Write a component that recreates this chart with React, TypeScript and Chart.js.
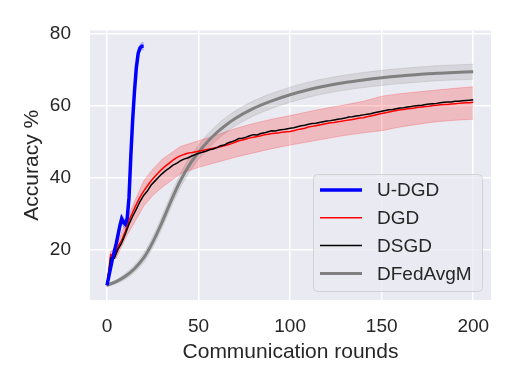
import React, { useEffect, useRef } from "react";
import Chart from "chart.js/auto";

const xTicks = [0, 50, 100, 150, 200];
const yTicks = [20, 40, 60, 80];

const udgdRounds = [0, 1, 2, 3, 4, 5, 6, 7, 8, 9, 10, 11, 12, 13, 14, 15, 16, 17, 18, 19, 20];
const udgdAcc = [10, 12.5, 15, 17.5, 19.5, 21.5, 24, 26.5, 28.5, 27.5, 27, 28.5, 34.3, 46, 56, 64, 70.5, 74.5, 76, 76.5, 76.5];
const udgdUpper = [10.5, 13.2, 15.8, 18.3, 20.4, 22.5, 25.1, 27.7, 29.7, 28.7, 28.2, 29.7, 35.5, 47.3, 57.3, 65.2, 71.7, 75.5, 77, 77.5, 77.5];
const udgdLower = [9.5, 11.8, 14.2, 16.7, 18.6, 20.5, 22.9, 25.3, 27.3, 26.3, 25.8, 27.3, 33.1, 44.7, 54.7, 62.8, 69.3, 73.5, 75, 75.5, 75.5];

const denseRounds = [
  0, 2, 4, 6, 8, 10, 12, 14, 16, 18, 20, 22, 24, 26, 28, 30, 32, 34, 36, 38, 40, 42, 44, 46, 48, 50,
  52, 54, 56, 58, 60, 62, 64, 66, 68, 70, 72, 74, 76, 78, 80, 82, 84, 86, 88, 90, 92, 94, 96, 98, 100,
  102, 104, 106, 108, 110, 112, 114, 116, 118, 120, 122, 124, 126, 128, 130, 132, 134, 136, 138, 140,
  142, 144, 146, 148, 150, 152, 154, 156, 158, 160, 162, 164, 166, 168, 170, 172, 174, 176, 178, 180,
  182, 184, 186, 188, 190, 192, 194, 196, 198, 200,
];

const dsgdAcc = [
  10.0, 17.6, 17.5, 20.0, 21.8, 24.3, 27.0, 29.2, 31.2, 33.3, 35.0, 36.2, 37.8, 38.9, 40.0, 41.0, 41.9,
  42.6, 43.4, 43.9, 44.6, 45.1, 45.4, 45.9, 46.3, 46.7, 47.0, 47.3, 47.7, 47.9, 48.3, 48.8, 49.0, 49.6,
  49.9, 50.3, 50.8, 50.9, 51.2, 51.6, 51.9, 51.8, 52.2, 52.4, 52.7, 53.0, 52.9, 53.2, 53.3, 53.5, 53.7,
  53.8, 54.1, 54.4, 54.5, 54.8, 55.0, 55.1, 55.3, 55.5, 55.7, 55.8, 56.0, 56.2, 56.3, 56.5, 56.8, 56.9,
  57.1, 57.2, 57.4, 57.6, 57.7, 58.0, 58.2, 58.4, 58.6, 58.8, 58.9, 59.1, 59.3, 59.4, 59.6, 59.7, 59.9,
  60.0, 60.1, 60.3, 60.4, 60.5, 60.6, 60.8, 60.9, 61.0, 61.0, 61.2, 61.2, 61.3, 61.4, 61.5, 61.6,
];

const dgdAcc = [
  10.0, 18.5, 18.0, 20.8, 22.5, 25.0, 28.0, 30.3, 32.5, 34.5, 36.2, 37.6, 39.0, 40.2, 41.3, 42.3, 43.2,
  44.0, 44.8, 45.5, 46.0, 46.4, 46.7, 46.9, 47.1, 47.3, 47.5, 47.7, 47.9, 48.1, 48.3, 48.5, 48.8, 49.1,
  49.4, 49.8, 50.2, 50.4, 50.7, 51.0, 51.2, 51.4, 51.6, 51.9, 52.0, 52.2, 52.3, 52.4, 52.6, 52.7, 52.8,
  53.0, 53.3, 53.5, 53.7, 54.0, 54.2, 54.4, 54.6, 54.8, 55.0, 55.2, 55.3, 55.5, 55.6, 55.8, 56.0, 56.1,
  56.3, 56.5, 56.6, 56.9, 57.1, 57.3, 57.6, 57.8, 58.0, 58.2, 58.4, 58.6, 58.8, 58.9, 59.1, 59.2, 59.3,
  59.5, 59.6, 59.7, 59.8, 60.0, 60.1, 60.2, 60.3, 60.3, 60.4, 60.5, 60.6, 60.7, 60.8, 60.8, 60.9,
];

const dgdBandRounds = [0, 2, 5, 10, 20, 25, 30, 40, 50, 60, 70, 80, 90, 100, 110, 120, 130, 140, 150, 160, 170, 180, 190, 200];
const dgdUpper = [10.5, 19.5, 20.5, 27.5, 39, 42.3, 45, 48.6, 50.2, 51.8, 53.6, 55, 56.2, 57.2, 58.3, 59.3, 60.2, 61.2, 62.6, 63.3, 63.8, 64.3, 64.8, 65.2];
const dgdLower = [9.5, 17.5, 17.5, 23, 32, 35, 37.2, 41, 42.8, 44.2, 45.6, 46.8, 48, 49, 49.9, 50.8, 51.7, 52.4, 53, 54, 54.8, 55.5, 55.9, 56.2];

const dfedRounds = [0, 5, 10, 15, 20, 25, 30, 35, 40, 45, 50, 55, 60, 65, 70, 80, 90, 100, 110, 120, 130, 140, 150, 160, 170, 180, 190, 200];
const dfedAcc = [10, 11, 12.5, 14.6, 17.6, 22, 27.5, 33.5, 39, 43.5, 47, 50, 52.5, 54.6, 56.4, 59.2, 61.3, 63, 64.4, 65.5, 66.4, 67.1, 67.7, 68.2, 68.6, 69, 69.2, 69.4];
const dfedUpper = [10.4, 11.5, 13.3, 15.6, 18.9, 23.5, 29.2, 35.3, 40.9, 45.5, 49, 52.1, 54.6, 56.7, 58.5, 61.3, 63.4, 65.1, 66.5, 67.6, 68.5, 69.2, 69.8, 70.3, 70.7, 71.1, 71.3, 71.5];
const dfedLower = [9.6, 10.5, 11.7, 13.6, 16.3, 20.5, 25.8, 31.7, 37.1, 41.5, 45, 47.9, 50.4, 52.5, 54.3, 57.1, 59.2, 60.9, 62.3, 63.4, 64.3, 65, 65.6, 66.1, 66.5, 66.9, 67.1, 67.3];

const seriesNames = ["U-DGD", "DGD", "DSGD", "DFedAvgM"];
const seriesColors = ["#0000ff", "#ff0000", "#000000", "#808080"];
const seriesWidths = [3.5, 1.5, 1.5, 3];

const FONT = "'Liberation Sans', Arial, Helvetica, sans-serif";
const TEXT = "#262626";

const pts = (xs: number[], ys: number[]) => xs.map((x, i) => ({ x, y: ys[i] }));

const bgPlugin = {
  id: "bgPlugin",
  beforeDraw(chart: any) {
    const { ctx, chartArea: a } = chart;
    ctx.save();
    ctx.fillStyle = "#EAEAF2";
    ctx.fillRect(a.left, a.top, a.right - a.left, a.bottom - a.top);
    ctx.restore();
  },
};

const legendPlugin = {
  id: "legendPlugin",
  afterDatasetsDraw(chart: any) {
    const { ctx, chartArea: a } = chart;
    const right = a.right - 9;
    const bottom = a.bottom - 9;
    const w = 169;
    const h = 117;
    const left = right - w;
    const top = bottom - h;
    ctx.save();
    ctx.beginPath();
    if (ctx.roundRect) ctx.roundRect(left + 0.5, top + 0.5, w, h, 4);
    else ctx.rect(left + 0.5, top + 0.5, w, h);
    ctx.fillStyle = "rgba(234,234,242,0.8)";
    ctx.fill();
    ctx.strokeStyle = "rgba(204,204,204,0.8)";
    ctx.lineWidth = 1;
    ctx.stroke();
    ctx.font = `19px ${FONT}`;
    ctx.textBaseline = "middle";
    ctx.textAlign = "left";
    seriesNames.forEach((name, i) => {
      const y = top + 16 + i * 27.8;
      ctx.beginPath();
      ctx.moveTo(left + 7, y);
      ctx.lineTo(left + 49, y);
      ctx.strokeStyle = seriesColors[i];
      ctx.lineWidth = seriesWidths[i];
      ctx.lineCap = "butt";
      ctx.stroke();
      ctx.fillStyle = TEXT;
      ctx.fillText(name, left + 64, y + 1);
    });
    ctx.restore();
  },
};

export default function App() {
  const ref = useRef<HTMLCanvasElement | null>(null);
  useEffect(() => {
    if (!ref.current) return;
    const line = (label: string, data: any[], color: string, width: number, smooth = false) => ({
      label,
      data,
      borderColor: color,
      backgroundColor: color,
      borderWidth: width,
      pointRadius: 0,
      tension: smooth ? 0.4 : 0,
      cubicInterpolationMode: smooth ? "monotone" : "default",
      fill: false,
    });
    const band = (data: any[], color: string, fill: any, smooth = false) => ({
      label: "",
      data,
      borderColor: color,
      backgroundColor: color,
      borderWidth: 1,
      pointRadius: 0,
      tension: smooth ? 0.4 : 0,
      cubicInterpolationMode: smooth ? "monotone" : "default",
      fill,
    });
    const chart = new Chart(ref.current, {
      type: "line",
      data: {
        datasets: [
          line("U-DGD", pts(udgdRounds, udgdAcc), "#0000ff", 3.5),
          line("DSGD", pts(denseRounds, dsgdAcc), "#000000", 1.5),
          line("DGD", pts(denseRounds, dgdAcc), "#ff0000", 1.5),
          line("DFedAvgM", pts(dfedRounds, dfedAcc), "#808080", 3, true),
          band(pts(udgdRounds, udgdUpper), "rgba(0,0,255,0.2)", "+1"),
          band(pts(udgdRounds, udgdLower), "rgba(0,0,255,0.2)", false),
          band(pts(dgdBandRounds, dgdUpper), "rgba(255,0,0,0.2)", "+1"),
          band(pts(dgdBandRounds, dgdLower), "rgba(255,0,0,0.2)", false),
          band(pts(dfedRounds, dfedUpper), "rgba(128,128,128,0.2)", "+1", true),
          band(pts(dfedRounds, dfedLower), "rgba(128,128,128,0.2)", false, true),
        ] as any,
      },
      options: {
        responsive: false,
        animation: false,
        devicePixelRatio: 1,
        parsing: false as any,
        layout: { padding: { left: 0, top: 25, right: 24, bottom: 0 } },
        plugins: { legend: { display: false }, tooltip: { enabled: false } },
        scales: {
          x: {
            type: "linear",
            min: -9.3,
            max: 209.7,
            afterFit: (s: any) => {
              s.height = 86;
            },
            afterBuildTicks: (s: any) => {
              s.ticks = xTicks.map((v) => ({ value: v }));
            },
            grid: { color: "#ffffff", lineWidth: 1.5, drawTicks: false },
            border: { display: false },
            ticks: { color: TEXT, font: { family: FONT, size: 19 }, padding: 15, maxRotation: 0 },
            title: {
              display: true,
              text: "Communication rounds",
              color: TEXT,
              font: { family: FONT, size: 21 },
              padding: { top: 0, bottom: 21.4 },
            },
          },
          y: {
            type: "linear",
            min: 5.9,
            max: 80.9,
            afterFit: (s: any) => {
              s.width = 90;
            },
            afterBuildTicks: (s: any) => {
              s.ticks = yTicks.map((v) => ({ value: v }));
            },
            grid: { color: "#ffffff", lineWidth: 1.5, drawTicks: false },
            border: { display: false },
            ticks: { color: TEXT, font: { family: FONT, size: 19 }, padding: 19 },
            title: {
              display: true,
              text: "Accuracy %",
              color: TEXT,
              font: { family: FONT, size: 21 },
              padding: { top: 19.4, bottom: 0 },
            },
          },
        },
      },
      plugins: [bgPlugin, legendPlugin],
    } as any);
    return () => chart.destroy();
  }, []);
  return (
    <div style={{ position: "absolute", left: 0, top: 0, width: 515, height: 386, background: "#ffffff" }}>
      <canvas ref={ref} width={515} height={386} />
    </div>
  );
}
